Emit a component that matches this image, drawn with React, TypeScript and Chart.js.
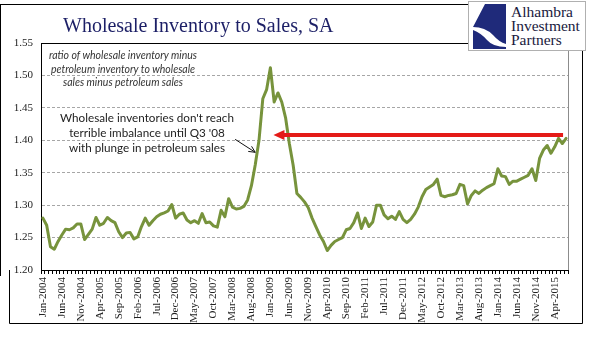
import React, { useEffect, useRef } from "react";
import { Chart, registerables } from "chart.js";

Chart.register(...registerables);

// ---- data (monthly, Jan-2004 .. Jul-2015) ----
const monthNames = ["Jan", "Feb", "Mar", "Apr", "May", "Jun", "Jul", "Aug", "Sep", "Oct", "Nov", "Dec"];
const firstYear = 2004;

const v2004 = [1.280, 1.269, 1.236, 1.232, 1.244, 1.254, 1.263, 1.262, 1.265, 1.271, 1.271, 1.247];
const v2005 = [1.255, 1.263, 1.281, 1.269, 1.272, 1.281, 1.276, 1.273, 1.259, 1.250, 1.257, 1.258];
const v2006 = [1.248, 1.251, 1.267, 1.280, 1.269, 1.276, 1.282, 1.286, 1.288, 1.291, 1.301, 1.280];
const v2007 = [1.286, 1.288, 1.277, 1.273, 1.276, 1.272, 1.287, 1.273, 1.274, 1.268, 1.266, 1.292];
const v2008 = [1.282, 1.310, 1.297, 1.294, 1.295, 1.298, 1.308, 1.330, 1.362, 1.400, 1.464, 1.478];
const v2009 = [1.512, 1.459, 1.473, 1.459, 1.435, 1.395, 1.362, 1.318, 1.312, 1.305, 1.296, 1.280];
const v2010 = [1.267, 1.254, 1.244, 1.230, 1.238, 1.244, 1.247, 1.250, 1.262, 1.264, 1.273, 1.288];
const v2011 = [1.264, 1.280, 1.267, 1.274, 1.300, 1.300, 1.285, 1.279, 1.283, 1.278, 1.290, 1.278];
const v2012 = [1.273, 1.278, 1.286, 1.297, 1.313, 1.324, 1.328, 1.332, 1.340, 1.315, 1.313, 1.315];
const v2013 = [1.316, 1.318, 1.332, 1.330, 1.302, 1.315, 1.322, 1.318, 1.323, 1.327, 1.330, 1.333];
const v2014 = [1.356, 1.345, 1.344, 1.332, 1.337, 1.337, 1.340, 1.343, 1.346, 1.356, 1.338, 1.372];
const v2015 = [1.385, 1.392, 1.380, 1.390, 1.403, 1.395, 1.403];

const seriesValues = [
  ...v2004, ...v2005, ...v2006, ...v2007, ...v2008, ...v2009,
  ...v2010, ...v2011, ...v2012, ...v2013, ...v2014, ...v2015,
];
const categories = seriesValues.map(
  (_, i) => `${monthNames[i % 12]}-${firstYear + Math.floor(i / 12)}`
);

const shownTickLabels = [
  "Jan-2004", "Jun-2004", "Nov-2004", "Apr-2005", "Sep-2005", "Feb-2006", "Jul-2006",
  "Dec-2006", "May-2007", "Oct-2007", "Mar-2008", "Aug-2008", "Jan-2009", "Jun-2009",
  "Nov-2009", "Apr-2010", "Sep-2010", "Feb-2011", "Jul-2011", "Dec-2011", "May-2012",
  "Oct-2012", "Mar-2013", "Aug-2013", "Jan-2014", "Jun-2014", "Nov-2014", "Apr-2015",
];

const yMin = 1.2;
const yMax = 1.55;
const yStep = 0.05;

// annotation anchors (in data units)
const redArrowLevel = 1.408;
const redArrowFromIndex = 137.2;
const redArrowToIndex = 60.8;
const blackArrowFrom = { index: 50.7, value: 1.4015 };
const blackArrowTo = { index: 56.0, value: 1.3815 };

const titleText = "Wholesale Inventory to Sales, SA";
const noteLines = ["ratio of wholesale inventory minus", "petroleum inventory to wholesale", "sales minus petroleum sales"];
const calloutLines = ["Wholesale inventories don't reach", "terrible imbalance until Q3 '08", "with plunge in petroleum sales"];
const logoLines = ["Alhambra", "Investment", "Partners"];

const LINE_COLOR = "#77933C";
const RED = "#E41B17";

const overlayPlugin = {
  id: "overlay",
  afterDraw(chart: any) {
    const { ctx, chartArea: ca, scales } = chart;
    const x = scales.x;
    const y = scales.y;
    ctx.save();

    // outer frame pieces
    ctx.strokeStyle = "#000";
    ctx.lineWidth = 1;
    ctx.beginPath();
    ctx.moveTo(0, 4.5);
    ctx.lineTo(470, 4.5);
    ctx.moveTo(0.5, 4);
    ctx.lineTo(0.5, 276);
    ctx.moveTo(9.5, 270);
    ctx.lineTo(9.5, 323.5);
    ctx.lineTo(582.5, 323.5);
    ctx.lineTo(582.5, 50);
    ctx.stroke();

    // plot-area top border (black) and right border (gray)
    ctx.beginPath();
    ctx.moveTo(ca.left, Math.round(ca.top) + 0.5);
    ctx.lineTo(470, Math.round(ca.top) + 0.5);
    ctx.stroke();
    ctx.strokeStyle = "#8c8c8c";
    ctx.beginPath();
    ctx.moveTo(Math.round(ca.right) + 0.5, 50);
    ctx.lineTo(Math.round(ca.right) + 0.5, ca.bottom);
    ctx.stroke();

    // red arrow
    const ry = y.getPixelForValue(redArrowLevel);
    const rx1 = x.getPixelForValue(redArrowFromIndex);
    const rx2 = x.getPixelForValue(redArrowToIndex);
    ctx.strokeStyle = RED;
    ctx.fillStyle = RED;
    ctx.lineWidth = 4;
    ctx.beginPath();
    ctx.moveTo(rx1, ry);
    ctx.lineTo(rx2 + 8, ry);
    ctx.stroke();
    ctx.beginPath();
    ctx.moveTo(rx2, ry);
    ctx.lineTo(rx2 + 11, ry - 5);
    ctx.lineTo(rx2 + 11, ry + 5);
    ctx.closePath();
    ctx.fill();

    // black callout arrow
    const bx1 = x.getPixelForValue(blackArrowFrom.index);
    const by1 = y.getPixelForValue(blackArrowFrom.value);
    const bx2 = x.getPixelForValue(blackArrowTo.index);
    const by2 = y.getPixelForValue(blackArrowTo.value);
    ctx.strokeStyle = "#111";
    ctx.lineWidth = 1;
    ctx.beginPath();
    ctx.moveTo(bx1, by1);
    ctx.lineTo(bx2, by2);
    const ang = Math.atan2(by2 - by1, bx2 - bx1);
    const hl = 7;
    ctx.moveTo(bx2, by2);
    ctx.lineTo(bx2 - hl * Math.cos(ang - 0.45), by2 - hl * Math.sin(ang - 0.45));
    ctx.moveTo(bx2, by2);
    ctx.lineTo(bx2 - hl * Math.cos(ang + 0.45), by2 - hl * Math.sin(ang + 0.45));
    ctx.stroke();

    ctx.restore();
  },
};

export default function App() {
  const canvasRef = useRef<HTMLCanvasElement | null>(null);

  useEffect(() => {
    document.body.style.margin = "0";
    const canvas = canvasRef.current;
    if (!canvas) return;
    const chart = new Chart(canvas, {
      type: "line",
      data: {
        labels: categories,
        datasets: [
          {
            data: seriesValues,
            borderColor: LINE_COLOR,
            borderWidth: 3,
            pointRadius: 0,
            tension: 0,
            fill: false,
            borderJoinStyle: "round",
            borderCapStyle: "round",
          },
        ],
      },
      options: {
        animation: false,
        responsive: false,
        maintainAspectRatio: false,
        devicePixelRatio: 1,
        layout: { padding: { top: 43, right: 28, left: 0, bottom: 0 } },
        plugins: {
          legend: { display: false },
          tooltip: { enabled: false },
          title: { display: false },
        },
        scales: {
          x: {
            type: "category",
            offset: true,
            grid: {
              offset: true,
              drawOnChartArea: false,
              drawTicks: true,
              tickLength: 4,
              color: "#000",
              lineWidth: 1,
            },
            border: { display: true, color: "#000", width: 1 },
            ticks: {
              autoSkip: false,
              minRotation: 90,
              maxRotation: 90,
              padding: 3,
              color: "#222",
              font: { family: "'Liberation Serif', 'DejaVu Serif', serif", size: 11 },
              callback: (_v: any, idx: number) =>
                shownTickLabels.includes(categories[idx]) ? categories[idx] : "",
            },
            afterFit: (scale: any) => {
              scale.height = 71;
            },
          },
          y: {
            min: yMin,
            max: yMax,
            grid: {
              drawTicks: false,
              lineWidth: 1,
              color: (c: any) => {
                const v = c.tick ? c.tick.value : null;
                if (v === null) return "rgba(0,0,0,0)";
                if (Math.abs(v - yMin) < 1e-6 || Math.abs(v - yMax) < 1e-6) return "rgba(0,0,0,0)";
                return "#a6a6a6";
              },
            },
            border: { display: true, color: "#000", width: 1, dash: [3, 2] },
            ticks: {
              stepSize: yStep,
              padding: 8,
              color: "#222",
              font: { family: "'Liberation Serif', 'DejaVu Serif', serif", size: 11 },
              callback: (v: any) => Number(v).toFixed(2),
            },
            afterFit: (scale: any) => {
              scale.width = 41;
            },
          },
        },
      },
      plugins: [overlayPlugin],
    } as any);
    return () => chart.destroy();
  }, []);

  const abs = (s: React.CSSProperties): React.CSSProperties => ({ position: "absolute", ...s });

  return (
    <div style={{ position: "relative", width: 596, height: 341, background: "#fff", overflow: "hidden" }}>
      <canvas ref={canvasRef} width={596} height={341} style={{ position: "absolute", left: 0, top: 0, width: 596, height: 341 }} />
      <div
        style={abs({
          left: 63,
          top: 13,
          fontFamily: "'Liberation Serif', serif",
          fontSize: 20,
          lineHeight: "24px",
          color: "#1c1f66",
          whiteSpace: "nowrap",
        })}
      >
        {titleText}
      </div>
      {/* logo */}
      <div style={abs({ left: 468, top: 1, width: 118, height: 50, border: "1px solid #b0b0b0", boxSizing: "border-box", background: "#fff" })} />
      <svg style={abs({ left: 471, top: 3 })} width={36} height={46} viewBox="0 0 36 46">
        <path d="M35,1 L14,1 L2,24 Q14,24 22,32 Q28,39 35,41 Z" fill="#1f2a7a" />
        <path d="M2,27 Q10,30 16,37 Q22,44 35,44 L35,46 L2,46 Z" fill="#1f2a7a" />
      </svg>
      <div
        style={abs({
          left: 511,
          top: 5,
          fontFamily: "'Liberation Serif', serif",
          fontSize: 15.5,
          lineHeight: "14px",
          color: "#1a1a40",
          whiteSpace: "nowrap",
        })}
      >
        {logoLines.map((l) => (
          <div key={l}>{l}</div>
        ))}
      </div>
      {/* italic note */}
      <div
        style={abs({
          left: 33,
          top: 49,
          width: 180,
          textAlign: "center",
          fontFamily: "Lato, 'Liberation Sans', sans-serif",
          fontStyle: "italic",
          fontSize: 10.5,
          lineHeight: "13.5px",
          color: "#333",
        })}
      >
        {noteLines.map((l) => (
          <div key={l}>{l}</div>
        ))}
      </div>
      {/* callout */}
      <div
        style={abs({
          left: 47,
          top: 110,
          width: 200,
          textAlign: "center",
          fontFamily: "Lato, 'Liberation Sans', sans-serif",
          fontSize: 11.7,
          lineHeight: "15px",
          color: "#222",
        })}
      >
        {calloutLines.map((l) => (
          <div key={l}>{l}</div>
        ))}
      </div>
    </div>
  );
}
